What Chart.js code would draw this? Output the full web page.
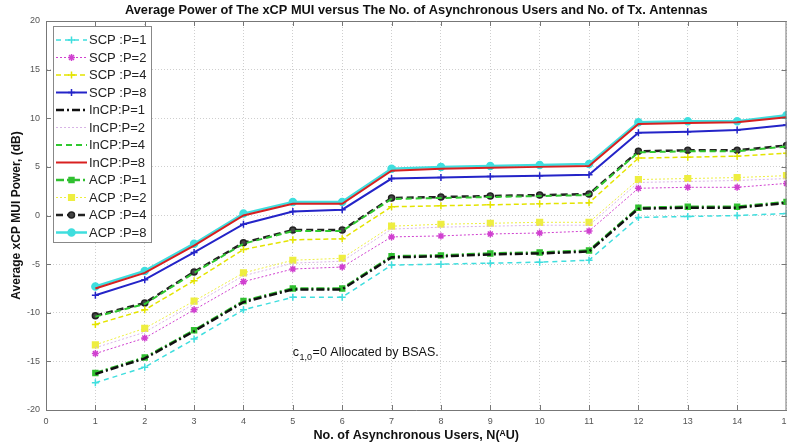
<!DOCTYPE html>
<html>
<head>
<meta charset="utf-8">
<script src="https://cdn.jsdelivr.net/npm/chart.js@4.4.1/dist/chart.umd.min.js"></script>
<style>
html,body{margin:0;padding:0;background:#fff;overflow:hidden;width:787px;height:445px}
#wrap{position:relative;width:800px;height:445px}
</style>
</head>
<body>
<div id="wrap"><canvas id="c" width="800" height="445"></canvas></div>
<script>
// ---- data ----
const users = [1,2,3,4,5,6,7,8,9,10,11,12,13,14,15];
const scpP1  = [-17.2,-15.6,-12.7,-9.7,-8.4,-8.4,-5.1,-5.0,-4.9,-4.8,-4.6,-0.2,-0.1,0.0,0.2];
const scpP2  = [-14.2,-12.6,-9.7,-6.8,-5.5,-5.3,-2.2,-2.1,-1.9,-1.8,-1.6,2.8,2.9,2.9,3.3];
const scpP4  = [-11.2,-9.7,-6.7,-3.5,-2.5,-2.4,0.9,1.0,1.1,1.2,1.3,5.9,6.0,6.1,6.4];
const scpP8  = [-8.2,-6.6,-3.8,-0.9,0.4,0.6,3.8,3.9,4.0,4.1,4.2,8.5,8.6,8.8,9.3];
const incpP1 = [-16.3,-14.7,-11.9,-8.9,-7.6,-7.6,-4.3,-4.2,-4.0,-3.9,-3.7,0.7,0.8,0.8,1.3];
const incpP2 = [-13.6,-12.0,-9.1,-6.2,-4.9,-4.7,-1.4,-1.2,-1.1,-1.0,-1.0,3.4,3.5,3.6,3.8];
const incpP4 = [-10.4,-9.1,-5.9,-2.9,-1.6,-1.6,1.7,1.8,1.9,2.0,2.1,6.5,6.6,6.6,7.1];
const incpP8 = [-7.5,-5.9,-3.1,0.0,1.2,1.2,4.6,4.8,4.9,5.0,5.1,9.4,9.5,9.6,10.1];
const acpP1  = [-16.2,-14.6,-11.8,-8.8,-7.5,-7.5,-4.2,-4.1,-3.9,-3.8,-3.6,0.8,0.9,0.9,1.4];
const acpP2  = [-13.3,-11.6,-8.8,-5.9,-4.6,-4.4,-1.1,-0.9,-0.8,-0.7,-0.7,3.7,3.8,3.9,4.1];
const acpP4  = [-10.3,-9.0,-5.8,-2.8,-1.5,-1.5,1.8,1.9,2.0,2.1,2.2,6.6,6.7,6.7,7.2];
const acpP8  = [-7.3,-5.7,-2.9,0.2,1.4,1.4,4.8,5.0,5.1,5.2,5.3,9.6,9.7,9.7,10.3];
const seriesNames = ['SCP :P=1','SCP :P=2','SCP :P=4','SCP :P=8','InCP:P=1','InCP:P=2','InCP:P=4','InCP:P=8','ACP :P=1','ACP :P=2','ACP :P=4','ACP :P=8'];
const xTickValues = [0,1,2,3,4,5,6,7,8,9,10,11,12,13,14,15];
const yTickValues = [-20,-15,-10,-5,0,5,10,15,20];
const chartTitle = 'Average Power of The xCP MUI versus The No. of Asynchronous Users and No. of Tx. Antennas';
const xTitle = 'No. of Asynchronous Users, N(\u1D2CU)';
const yTitle = 'Average xCP MUI Power, (dB)';
const noteMain = 'c';
const noteSub = '1,0';
const noteRest = '=0 Allocated by BSAS.';
const notePos = {x: 5.0, y: -14.4};

// ---- styles ----
const seriesValues = [scpP1,scpP2,scpP4,scpP8,incpP1,incpP2,incpP4,incpP8,acpP1,acpP2,acpP4,acpP8];
const styles = [
  {c:'#3fdede', w:1.5, d:[5,4], ps:'cross', r:3.5, bg:'#3fdede'},
  {c:'#d040d0', w:1, d:[2,2], ps:'star', r:3.5, bg:'#d040d0'},
  {c:'#e4e400', w:1.5, d:[5,3], ps:'cross', r:3.5, bg:'#e4e400'},
  {c:'#2424c8', w:2, d:[], ps:'cross', r:3.5, bg:'#2424c8'},
  {c:'#111111', w:2.5, d:[8,3,2,3], ps:'circle', r:0, bg:'#111'},
  {c:'#d8b4e6', w:1, d:[2,2], ps:'circle', r:0, bg:'#d8b4e6'},
  {c:'#30c830', w:2, d:[6,4], ps:'circle', r:0, bg:'#30c830'},
  {c:'#d82020', w:2, d:[], ps:'circle', r:0, bg:'#d82020'},
  {c:'#30c030', w:2.5, d:[8,3,2,3], ps:'rect', r:3.5, bg:'#30c030'},
  {c:'#eeee40', w:1, d:[2,2], ps:'rect', r:4, bg:'#eeee40'},
  {c:'#222222', w:2.5, d:[7,4], ps:'circle', r:3, bg:'#444'},
  {c:'#3fdede', w:2.5, d:[], ps:'circle', r:3.5, bg:'#3fdede'}
];

const datasets = seriesNames.map((name, i) => ({
  label: name,
  data: users.map((u, k) => ({x: u, y: seriesValues[i][k]})),
  borderColor: styles[i].c,
  backgroundColor: styles[i].bg,
  borderWidth: styles[i].w,
  borderDash: styles[i].d,
  pointStyle: styles[i].ps,
  pointRadius: styles[i].r,
  pointBorderColor: styles[i].c,
  pointBackgroundColor: styles[i].bg,
  pointBorderWidth: 1.5,
  tension: 0,
  fill: false
}));

const FONT = '"Liberation Sans", Arial, sans-serif';

const deco = {
  id: 'deco',
  afterDatasetsDraw(chart) {
    const {ctx, chartArea: a, scales: {x, y}} = chart;
    ctx.save();
    // box
    ctx.strokeStyle = '#777';
    ctx.lineWidth = 1;
    ctx.setLineDash([]);
    ctx.beginPath();
    ctx.moveTo(a.left, a.top + 0.5); ctx.lineTo(a.right, a.top + 0.5);
    ctx.moveTo(a.right - 0.5, a.top); ctx.lineTo(a.right - 0.5, a.bottom);
    ctx.stroke();
    // inner ticks
    ctx.beginPath();
    xTickValues.forEach(v => {
      const px = Math.round(x.getPixelForValue(v)) + 0.5;
      ctx.moveTo(px, a.bottom); ctx.lineTo(px, a.bottom - 5);
      ctx.moveTo(px, a.top); ctx.lineTo(px, a.top + 5);
    });
    yTickValues.forEach(v => {
      const py = Math.round(y.getPixelForValue(v)) + 0.5;
      ctx.moveTo(a.left, py); ctx.lineTo(a.left + 5, py);
      ctx.moveTo(a.right, py); ctx.lineTo(a.right - 5, py);
    });
    ctx.stroke();

    // title
    ctx.fillStyle = '#111';
    ctx.font = 'bold 12.8px ' + FONT;
    ctx.textAlign = 'center';
    ctx.textBaseline = 'middle';
    ctx.fillText(chartTitle, (a.left + a.right) / 2, 10);

    // annotation
    const nx = x.getPixelForValue(notePos.x);
    const ny = y.getPixelForValue(notePos.y);
    ctx.textAlign = 'left';
    ctx.textBaseline = 'alphabetic';
    ctx.font = '12.5px ' + FONT;
    ctx.fillText(noteMain, nx, ny);
    let cx = nx + ctx.measureText(noteMain).width;
    ctx.font = '9px ' + FONT;
    ctx.fillText(noteSub, cx + 0.5, ny + 4);
    cx += ctx.measureText(noteSub).width + 1;
    ctx.font = '12.5px ' + FONT;
    ctx.fillText(noteRest, cx, ny);

    // legend box
    const L = 53, T = 26, R = 151, B = 242;
    ctx.fillStyle = '#fff';
    ctx.fillRect(L, T, R - L, B - T);
    ctx.strokeStyle = '#888';
    ctx.lineWidth = 1;
    ctx.strokeRect(L + 0.5, T + 0.5, R - L, B - T);
    chart.data.datasets.forEach((ds, i) => {
      const ly = 40 + i * 17.5;
      ctx.save();
      ctx.strokeStyle = ds.borderColor;
      ctx.lineWidth = ds.borderWidth;
      ctx.setLineDash(ds.borderDash);
      ctx.beginPath();
      ctx.moveTo(56, ly); ctx.lineTo(87, ly);
      ctx.stroke();
      ctx.setLineDash([]);
      if (ds.pointRadius > 0) {
        ctx.fillStyle = ds.pointBackgroundColor;
        ctx.strokeStyle = ds.pointBorderColor;
        ctx.lineWidth = ds.pointBorderWidth;
        if (Chart.helpers && Chart.helpers.drawPoint) {
          Chart.helpers.drawPoint(ctx, {pointStyle: ds.pointStyle, radius: ds.pointRadius, rotation: 0, borderWidth: ds.pointBorderWidth}, 71.5, ly);
        } else {
          ctx.beginPath(); ctx.arc(71.5, ly, ds.pointRadius, 0, Math.PI * 2); ctx.fill();
        }
      }
      ctx.restore();
      ctx.fillStyle = '#222';
      ctx.font = '13px ' + FONT;
      ctx.textAlign = 'left';
      ctx.textBaseline = 'middle';
      ctx.fillText(ds.label, 89, ly + 0.5);
    });
    ctx.restore();
  }
};

new Chart(document.getElementById('c'), {
  type: 'line',
  data: {datasets},
  plugins: [deco],
  options: {
    responsive: false,
    animation: false,
    devicePixelRatio: 1,
    layout: {padding: {top: 21, right: 13.5, left: 0, bottom: 0}},
    plugins: {legend: {display: false}, tooltip: {enabled: false}, title: {display: false}},
    scales: {
      x: {
        type: 'linear', min: 0, max: 15,
        afterFit: s => { s.height = 35; },
        afterBuildTicks: s => { s.ticks = xTickValues.map(v => ({value: v})); },
        ticks: {font: {size: 9, family: FONT}, color: '#555', padding: 6, maxRotation: 0, autoSkip: false},
        grid: {color: '#cfcfcf', lineWidth: 1, drawTicks: false},
        border: {display: true, color: '#777', width: 1, dash: [1, 2]},
        title: {display: true, text: xTitle, font: {size: 12.6, weight: 'bold', family: FONT}, color: '#111', padding: {top: 0, bottom: 2}}
      },
      y: {
        type: 'linear', min: -20, max: 20,
        afterFit: s => { s.width = 46; },
        afterBuildTicks: s => { s.ticks = yTickValues.map(v => ({value: v})); },
        ticks: {font: {size: 9, family: FONT}, color: '#555', padding: 6},
        grid: {color: '#cfcfcf', lineWidth: 1, drawTicks: false},
        border: {display: true, color: '#777', width: 1, dash: [1, 2]},
        title: {display: true, text: yTitle, font: {size: 12, weight: 'bold', family: FONT}, color: '#111', padding: {top: 9, bottom: 0}}
      }
    }
  }
});
</script>
</body>
</html>
